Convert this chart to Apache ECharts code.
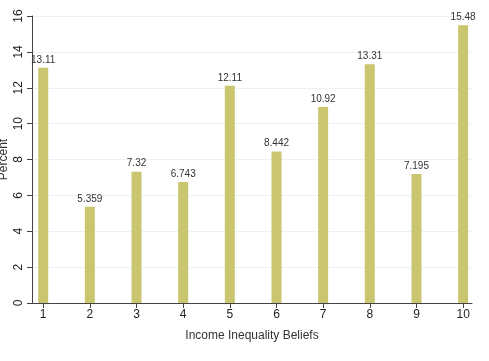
<!DOCTYPE html>
<html>
<head>
<meta charset="utf-8">
<script src="https://cdn.jsdelivr.net/npm/echarts@6/dist/echarts.min.js"></script>
<style>
  html, body { margin: 0; padding: 0; background: #fff; }
  #chart { width: 489px; height: 361px; }
</style>
</head>
<body>
<div id="chart"></div>
<script>
// belief scale 1..10 and percent of respondents
const categories = [1, 2, 3, 4, 5, 6, 7, 8, 9, 10];
const percents = [13.11, 5.359, 7.32, 6.743, 12.11, 8.442, 10.92, 13.31, 7.195, 15.48];
const labels = ['13.11', '5.359', '7.32', '6.743', '12.11', '8.442', '10.92', '13.31', '7.195', '15.48'];
const yTicks = [0, 2, 4, 6, 8, 10, 12, 14, 16];

const chart = echarts.init(document.getElementById('chart'));
const font = 'Liberation Sans, Arial, sans-serif';

chart.setOption({
  animation: false,
  grid: { left: 32, right: 17, top: 16, bottom: 58, outerBoundsMode: 'none', containLabel: false },
  xAxis: {
    type: 'value',
    min: 0.76,
    max: 10.19,
    name: 'Income Inequality Beliefs',
    nameLocation: 'middle',
    nameGap: 27,
    nameMoveOverlap: false,
    nameTextStyle: { color: '#333', fontSize: 12, fontFamily: font },
    axisLine: { lineStyle: { color: '#444', width: 1 } },
    axisTick: { show: true, length: 5, customValues: categories, lineStyle: { color: '#444' } },
    axisLabel: { customValues: categories, color: '#222', fontSize: 12, fontFamily: font, margin: 6 },
    splitLine: { show: false }
  },
  yAxis: {
    type: 'value',
    min: 0,
    max: 16,
    interval: 2,
    name: 'Percent',
    nameLocation: 'middle',
    nameGap: 22,
    nameMoveOverlap: false,
    nameTextStyle: { color: '#333', fontSize: 12, fontFamily: font },
    axisLine: { show: true, lineStyle: { color: '#444', width: 1 } },
    axisTick: { show: true, length: 5, customValues: yTicks, lineStyle: { color: '#444' } },
    axisLabel: { rotate: 90, customValues: yTicks, color: '#222', fontSize: 12, fontFamily: font, margin: 7 },
    splitLine: { show: true, lineStyle: { color: '#eef1f3', width: 1 } }
  },
  series: [{
    type: 'bar',
    barWidth: 10,
    data: categories.map((c, i) => [c, percents[i]]),
    itemStyle: { color: '#c9c66f' },
    label: {
      show: true,
      position: 'top',
      distance: 3,
      color: '#333',
      fontSize: 10,
      fontFamily: font,
      formatter: p => labels[p.dataIndex]
    }
  }]
});
</script>
</body>
</html>
